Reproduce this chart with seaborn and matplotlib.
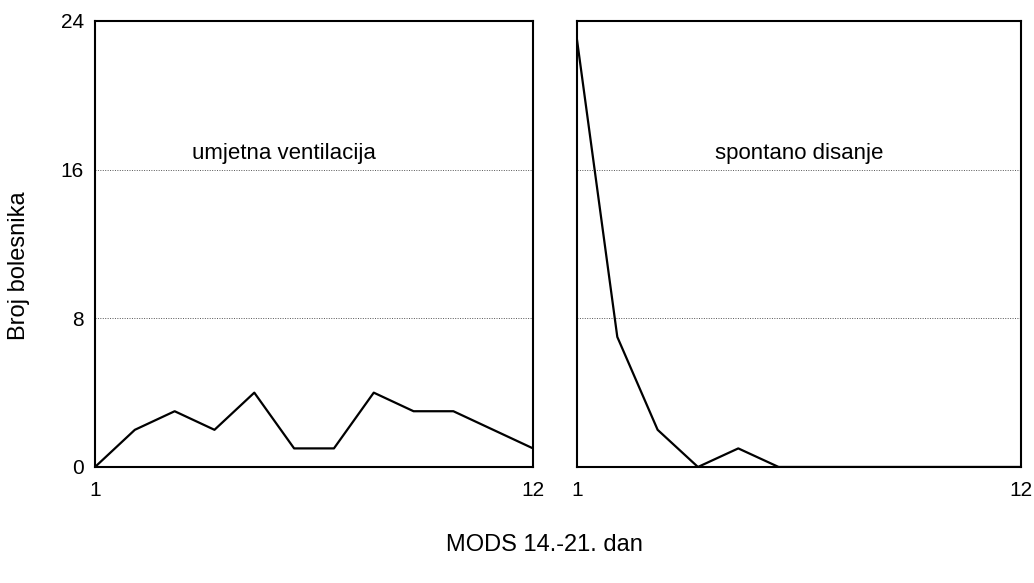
import matplotlib
matplotlib.use("Agg")
import matplotlib.pyplot as plt
import seaborn as sns
import pandas as pd

days = list(range(1, 13))
umjetna_ventilacija = [0, 2, 3, 2, 4, 1, 1, 4, 3, 3, 2, 1]
spontano_disanje = [23, 7, 2, 0, 1, 0, 0, 0, 0, 0, 0, 0]
panel_titles = ["umjetna ventilacija", "spontano disanje"]
title_x = [5.75, 6.5]
y_ticks = [0, 8, 16, 24]
x_ticks = [1, 12]

sns.set_theme(style="white")
plt.rcParams['font.family'] = ['Liberation Sans', 'DejaVu Sans']
plt.rcParams['text.color'] = 'black'

fig = plt.figure(figsize=(10.34, 5.83), dpi=100)
ax1 = fig.add_axes([0.0919, 0.199, 0.4236, 0.765])
ax2 = fig.add_axes([0.558, 0.199, 0.429, 0.765])

series = [umjetna_ventilacija, spontano_disanje]
for i, (ax, vals, title, tx) in enumerate(zip([ax1, ax2], series, panel_titles, title_x)):
    df = pd.DataFrame({"dan": days, "broj": vals})
    sns.lineplot(data=df, x="dan", y="broj", ax=ax, color="black", linewidth=1.6)
    ax.set_xlim(1, 12)
    ax.set_ylim(0, 24)
    ax.set_xticks(x_ticks)
    ax.set_xticklabels([str(t) for t in x_ticks], fontsize=15, color="black")
    ax.set_yticks(y_ticks)
    if i == 0:
        ax.set_yticklabels([str(t) for t in y_ticks], fontsize=15, color="black")
    else:
        ax.set_yticklabels([])
    ax.tick_params(axis="x", length=0, pad=10)
    ax.tick_params(axis="y", length=0, pad=8)
    for yv in [8, 16]:
        ax.axhline(yv, color="#555555", linestyle=(0, (1, 1.5)), linewidth=0.7, zorder=0)
    for s in ax.spines.values():
        s.set_color("black")
        s.set_linewidth(1.5)
    ax.text(tx, 16.55, title, ha="center", va="baseline", fontsize=16, color="black")
    ax.set_xlabel("")
    ax.set_ylabel("")

fig.text(0.018, 0.545, "Broj bolesnika", rotation=90, ha="center", va="center", fontsize=17, color="black")
fig.text(0.527, 0.065, "MODS 14.-21. dan", ha="center", va="center", fontsize=17, color="black")

fig.savefig("out.png", dpi=100)
